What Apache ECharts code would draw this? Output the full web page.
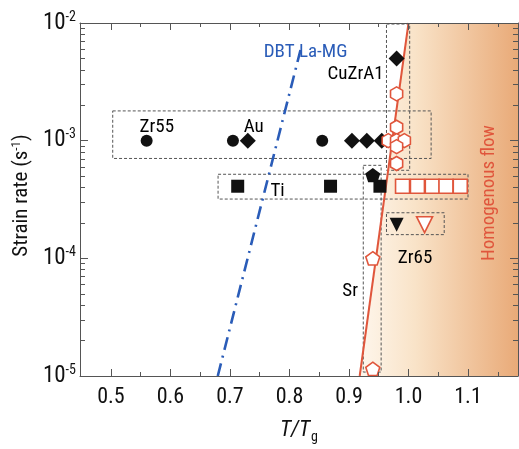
<!DOCTYPE html>
<html><head><meta charset="utf-8">
<script src="https://cdn.jsdelivr.net/npm/echarts@6/dist/echarts.min.js"></script>
<style>html,body{margin:0;padding:0;background:#fff}#c{width:519px;height:449px}</style>
</head><body><div id="c"></div>
<script>
// ---- tick labels ----
const xLabelTicks = [0.5, 0.6, 0.7, 0.8, 0.9, 1.0, 1.1];
const xMinorTicks = [0.55, 0.65, 0.75, 0.85, 0.95, 1.05, 1.15];
const yMinorTicks = [2e-5,3e-5,4e-5,5e-5,6e-5,7e-5,8e-5,9e-5,
                     2e-4,3e-4,4e-4,5e-4,6e-4,7e-4,8e-4,9e-4,
                     2e-3,3e-3,4e-3,5e-3,6e-3,7e-3,8e-3,9e-3];
// ---- data (T/Tg, strain rate) ----
const filledCircles = [[0.56, 1e-3], [0.705, 1e-3], [0.855, 1e-3]];
const filledDiamonds = [[0.73, 1e-3], [0.905, 1e-3], [0.93, 1e-3], [0.955, 1e-3], [0.98, 5e-3]];
const filledSquares = [[0.713, 4.1e-4], [0.869, 4.1e-4], [0.952, 4.1e-4]];
const filledPentagons = [[0.94, 5.1e-4]];
const filledTriangles = [[0.98, 1.93e-4]];
const openHexagons = [[0.98, 2.5e-3], [0.98, 1.3e-3], [0.966, 1e-3], [0.98, 1e-3], [0.993, 1e-3], [0.98, 8.9e-4], [0.98, 6.4e-4]];
const openSquares = [[0.99, 4.1e-4], [1.015, 4.1e-4], [1.04, 4.1e-4], [1.063, 4.1e-4], [1.087, 4.1e-4]];
const openPentagons = [[0.94, 1e-4], [0.94, 1.15e-5]];
const openTriangles = [[1.027, 1.93e-4]];
// boundary lines
const homogLine = [[0.918, 1e-5], [1.0, 1e-2]];
const dbtLine = [[0.6795, 1e-5], [0.8185, 5.9e-3]];
// shaded homogeneous region (polygon vertices)
const shadeX = [0.918, 1.0, 1.184, 1.184];
const shadeY = [1e-5, 1e-2, 1e-2, 1e-5];
// dashed grouping boxes [x1, y1, x2, y2]
const boxes = [
  [0.503, 1.79e-3, 1.038, 7.06e-4],
  [0.68, 5.18e-4, 1.10, 3.19e-4],
  [0.963, 9.8e-3, 1.002, 5.6e-4],
  [0.924, 6.17e-4, 0.954, 1.08e-5],
  [0.963, 2.44e-4, 1.06, 1.59e-4]
];
// annotations
const labelNames = ['Zr55', 'Au', 'CuZrA1', 'Ti', 'Zr65', 'Sr'];
const labelPos = [[0.577, 1.3e-3], [0.740, 1.3e-3], [0.911, 3.69e-3], [0.78, 3.72e-4], [1.011, 1.0e-4], [0.902, 5.28e-5]];
const dbtLabel = {name: 'DBT La-MG', pos: [0.827, 5.6e-3]};
const homogLabel = {name: 'Homogenous flow', pos: [1.135, 3.59e-4]};

const FONT = '"Liberation Sans Narrow", "Roboto Condensed", "DejaVu Sans Condensed", "Arial Narrow", sans-serif';
const RED = '#e0563c';
const BLUE = '#2a5cb8';
const AX = '#555';
const TXT = '#111';

const hexPath = 'path://M0,-1L0.866,-0.5L0.866,0.5L0,1L-0.866,0.5L-0.866,-0.5Z';
const pentPath = 'path://M0,-1L0.951,-0.309L0.588,0.809L-0.588,0.809L-0.951,-0.309Z';

const xMin = 0.448, xMax = 1.184;
function xAx(pos, major) {
  return {
    type: 'value', min: xMin, max: xMax, position: pos, z: 10,
    axisLine: {show: major, onZero: false, lineStyle: {color: AX, width: 1}},
    axisTick: {show: true, inside: true, length: major ? 7 : 4, customValues: major ? xLabelTicks : xMinorTicks, lineStyle: {color: AX, width: 1}},
    axisLabel: (major && pos === 'bottom') ? {customValues: xLabelTicks, formatter: v => v.toFixed(1), fontFamily: FONT, fontSize: 22, color: TXT, margin: 10} : {show: false},
    splitLine: {show: false}
  };
}
function yLogAx(pos) {
  return {
    type: 'log', min: 1e-5, max: 1e-2, position: pos, z: 10, logBase: 10,
    axisLine: {show: true, onZero: false, lineStyle: {color: AX, width: 1}},
    axisTick: {show: true, inside: true, length: 8, lineStyle: {color: AX, width: 1}},
    axisLabel: pos === 'left' ? {
      formatter: v => '{b|10}{s|' + Math.round(Math.log10(v)) + '}',
      margin: 4,
      rich: {
        b: {fontFamily: FONT, fontSize: 23, color: TXT},
        s: {fontFamily: FONT, fontSize: 14, color: TXT, padding: [0, 0, 12, 0]}
      }
    } : {show: false},
    splitLine: {show: false}
  };
}
function yMinorAx(pos) {
  return {
    type: 'value', min: -5, max: -2, position: pos, z: 10,
    axisLine: {show: false, onZero: false},
    axisTick: {show: true, inside: true, length: 5, customValues: yMinorTicks.map(v => Math.log10(v)), lineStyle: {color: AX, width: 1}},
    axisLabel: {show: false},
    splitLine: {show: false}
  };
}

const xAxes = [xAx('bottom', true), xAx('bottom', false), xAx('top', true), xAx('top', false)];
xAxes[0].name = '{i|T/T}{g|g}';
xAxes[0].nameLocation = 'middle';
xAxes[0].nameGap = 40;
xAxes[0].nameTextStyle = {rich: {
  i: {fontFamily: FONT, fontSize: 22, fontStyle: 'italic', color: TXT},
  g: {fontFamily: FONT, fontSize: 14, color: TXT, padding: [14, 0, 0, 1]}
}};
const yAxes = [yLogAx('left'), yMinorAx('left'), yLogAx('right'), yMinorAx('right')];
yAxes[0].name = 'Strain rate (s{s|-1})';
yAxes[0].nameLocation = 'middle';
yAxes[0].nameGap = 47;
yAxes[0].nameTextStyle = {fontFamily: FONT, fontSize: 21, color: TXT, padding: [0, 0, 0, 8], rich: {
  s: {fontFamily: FONT, fontSize: 13, color: TXT, padding: [0, 0, 10, 0]}
}};

function sc(data, symbol, size, fill, stroke, rotate) {
  return {
    type: 'scatter', data: data, symbol: symbol, symbolSize: size, symbolKeepAspect: true,
    symbolRotate: rotate || 0, z: 5,
    itemStyle: {color: fill, borderColor: stroke, borderWidth: stroke ? 1.6 : 0, opacity: 1},
    emphasis: {disabled: true}, silent: true
  };
}

const labelData = labelNames.map((n, i) => ({name: n, value: labelPos[i]}));
labelData.push({name: dbtLabel.name, value: dbtLabel.pos, label: {color: BLUE}});
labelData.push({name: homogLabel.name, value: homogLabel.pos, label: {color: RED, rotate: 90}});

const option = {
  animation: false,
  grid: {left: 80, right: 1, top: 23, bottom: 69, containLabel: false},
  xAxis: xAxes,
  yAxis: yAxes,
  series: [
    {
      type: 'custom', z: 0, zlevel: 0, silent: true,
      data: [[1.0, 1e-3]],
      renderItem: (params, api) => {
        const pts = shadeX.map((x, i) => api.coord([x, shadeY[i]]));
        return {type: 'polygon', shape: {points: pts}, style: {
          fill: new echarts.graphic.LinearGradient(0, 0, 1, 0, [
            {offset: 0, color: '#fef6ec'}, {offset: 0.35, color: '#f9e3c8'}, {offset: 1, color: '#e9aa78'}
          ])}};
      }
    },
    {
      type: 'line', data: [], z: 3, silent: true,
      markArea: {
        silent: true, z: 3,
        itemStyle: {color: 'rgba(0,0,0,0)', borderColor: '#555', borderWidth: 1, borderType: [3, 2]},
        data: boxes.map(b => [{coord: [b[0], b[1]]}, {coord: [b[2], b[3]]}])
      }
    },
    {type: 'line', data: homogLine, z: 3, symbol: 'none', silent: true,
     lineStyle: {color: RED, width: 2}},
    {type: 'line', data: dbtLine, z: 3, symbol: 'none', silent: true,
     lineStyle: {color: BLUE, width: 2.6, type: [13, 6, 2, 6]}},
    sc(filledCircles, 'circle', 12, '#111'),
    sc(filledDiamonds, 'diamond', 16, '#111'),
    sc(filledSquares, 'rect', 13, '#111'),
    sc(filledPentagons, pentPath, 15, '#111'),
    sc(filledTriangles, 'triangle', 14, '#111', null, 180),
    sc(openHexagons, hexPath, 14, '#fff', RED),
    sc(openSquares, 'rect', 14, '#fff', RED),
    sc(openPentagons, pentPath, 14, '#fff', RED),
    sc(openTriangles, 'triangle', 16, '#fff', RED, 180),
    {
      type: 'scatter', data: labelData, symbolSize: 0, z: 6, silent: true,
      itemStyle: {color: 'rgba(0,0,0,0)', opacity: 1},
      label: {show: true, position: 'inside', formatter: '{b}', fontFamily: FONT, fontSize: 19, color: '#000', opacity: 1,
              textBorderWidth: 0, textBorderColor: 'transparent'}
    }
  ]
};
const chart = echarts.init(document.getElementById('c'), null, {renderer: 'canvas'});
chart.setOption(option);
</script></body></html>
